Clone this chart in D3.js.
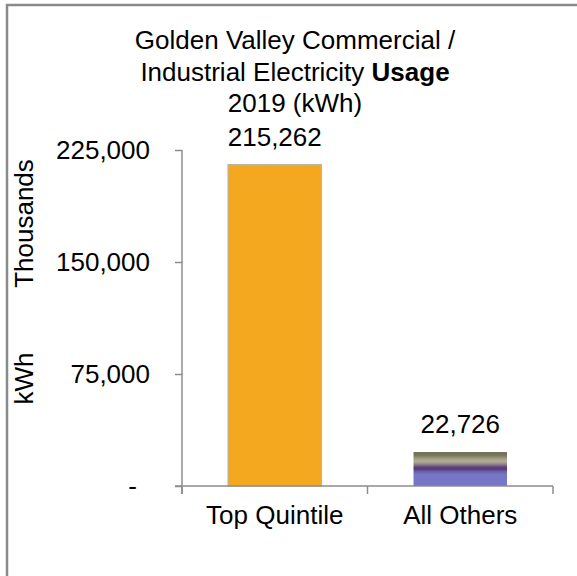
<!DOCTYPE html>
<html>
<head>
<meta charset="utf-8">
<script src="https://cdn.jsdelivr.net/npm/d3@7"></script>
<style>
  html, body { margin: 0; padding: 0; background: #fff; }
  svg { display: block; font-family: "Liberation Sans", Arial, sans-serif; }
</style>
</head>
<body>
<svg id="chart" width="577" height="576"></svg>
<script>
// Commercial / industrial usage, thousands of kWh
const categories = ["Top Quintile", "All Others"];
const usageThousands = [215262, 22726];
const yTicks = [0, 75000, 150000, 225000];
const titleLines = [
  [{ t: "Golden Valley Commercial /", bold: false }],
  [{ t: "Industrial Electricity ", bold: false }, { t: "Usage", bold: true }],
  [{ t: "2019 (kWh)", bold: false }]
];
const axisTitle = ["Thousands", "kWh"];

const svg = d3.select("#chart");
const fontSize = 26;

// outer chart frame
svg.append("rect")
  .attr("x", 7).attr("y", 5)
  .attr("width", 620).attr("height", 620)
  .attr("fill", "#fff")
  .attr("stroke", "#8a8a8a")
  .attr("stroke-width", 2.5);

// gradient for the second bar
const defs = svg.append("defs");
const grad = defs.append("linearGradient")
  .attr("id", "othersFill")
  .attr("x1", 0).attr("y1", 0).attr("x2", 0).attr("y2", 1);
[
  [0, "#6b6a50"], [0.1, "#7a785d"], [0.2, "#a29e84"], [0.27, "#b3ae95"],
  [0.35, "#968a8e"], [0.45, "#5d3f7c"], [0.5, "#583a7a"], [0.58, "#6b62ac"],
  [0.65, "#7676c6"], [1, "#7676c6"]
].forEach(([o, c]) => grad.append("stop").attr("offset", o).attr("stop-color", c));

const x = d3.scaleBand().domain(categories).range([182, 553]).padding(0);
const y = d3.scaleLinear().domain([0, 225000]).range([486, 150]);
const barW = x.bandwidth() * 0.504;

// title
const title = svg.append("text")
  .attr("text-anchor", "middle")
  .attr("font-size", fontSize)
  .attr("fill", "#000");
const titleBaselines = [48.5, 80.5, 112];
titleLines.forEach((line, i) => {
  const tl = title.append("tspan").attr("x", 295).attr("y", titleBaselines[i]);
  line.forEach(seg => {
    tl.append("tspan").attr("font-weight", seg.bold ? "bold" : "normal").text(seg.t);
  });
});

// axis title (rotated)
const ayCenters = [223.5, 378.5];
axisTitle.forEach((t, i) => {
  svg.append("text")
    .attr("transform", `translate(33,${ayCenters[i]}) rotate(-90)`)
    .attr("text-anchor", "middle")
    .attr("font-size", fontSize)
    .attr("fill", "#000")
    .text(t);
});

// bars
const bars = svg.append("g");
bars.selectAll("rect")
  .data(categories)
  .join("rect")
  .attr("x", (d) => x(d) + (x.bandwidth() - barW) / 2)
  .attr("y", (d, i) => y(usageThousands[i]))
  .attr("width", barW)
  .attr("height", (d, i) => y(0) - y(usageThousands[i]))
  .attr("fill", (d, i) => i === 0 ? "#f4a81f" : "url(#othersFill)")
  .attr("stroke", (d, i) => i === 0 ? "#bdb6a6" : "none")
  .attr("stroke-width", 1.2);

// value labels
svg.append("g").selectAll("text")
  .data(categories)
  .join("text")
  .attr("x", (d) => x(d) + x.bandwidth() / 2)
  .attr("y", (d, i) => y(usageThousands[i]) - 19)
  .attr("text-anchor", "middle")
  .attr("font-size", fontSize)
  .attr("fill", "#000")
  .text((d, i) => d3.format(",")(usageThousands[i]));

// y axis
const axisColor = "#8c8c8c";
const yAxis = d3.axisLeft(y)
  .tickValues(yTicks)
  .tickSize(7)
  .tickPadding(25)
  .tickFormat(d => d === 0 ? "-" : d3.format(",")(d));
const gy = svg.append("g").attr("transform", "translate(182,0)").call(yAxis);
gy.select(".domain").attr("d", `M0,${y(225000)}V494`).attr("stroke", axisColor).attr("stroke-width", 1.5);
gy.selectAll(".tick line").attr("stroke", axisColor).attr("stroke-width", 1.5);
gy.selectAll(".tick text")
  .attr("font-size", fontSize)
  .attr("font-family", "'Liberation Sans', Arial, sans-serif")
  .attr("fill", "#000")
  .attr("dx", d => d === 0 ? -13 : 0);

// x axis
const xAxis = d3.axisBottom(x).tickSize(0).tickPadding(20);
const gx = svg.append("g").attr("transform", `translate(0,${y(0)})`).call(xAxis);
gx.select(".domain").attr("d", "M175,0H553").attr("stroke", axisColor).attr("stroke-width", 1.5);
gx.selectAll(".tick text")
  .attr("font-size", fontSize)
  .attr("font-family", "'Liberation Sans', Arial, sans-serif")
  .attr("fill", "#000")
  .attr("dy", "0.71em");
// category boundary tick marks
gx.append("g").selectAll("line")
  .data([...categories.map(c => x(c)), x.range()[1]])
  .join("line")
  .attr("x1", d => d).attr("x2", d => d)
  .attr("y1", 0).attr("y2", 8)
  .attr("stroke", axisColor)
  .attr("stroke-width", 1.5);
</script>
</body>
</html>
